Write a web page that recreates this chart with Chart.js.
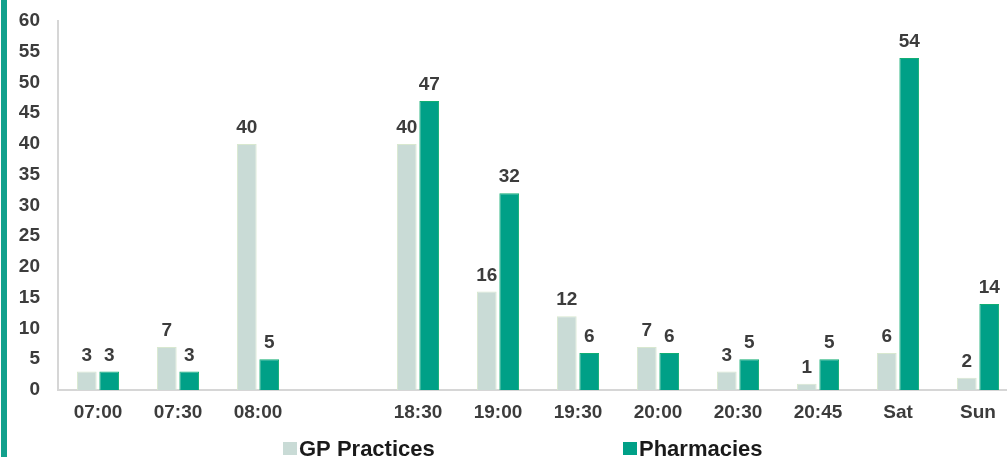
<!DOCTYPE html>
<html>
<head>
<meta charset="utf-8">
<script src="https://cdn.jsdelivr.net/npm/chart.js@4.4.1/dist/chart.umd.min.js"></script>
<style>
  html, body { margin: 0; padding: 0; background: #fff; overflow: hidden; }
  .wrap { position: relative; width: 1007px; height: 457px; overflow: hidden; }
  .stripe { position: absolute; left: 1px; top: 0; width: 6px; height: 457px; background: #12a08c; z-index: 2; }
  canvas { position: absolute; left: 0; top: 0; }
</style>
</head>
<body>
<div class="wrap">
  <div class="stripe"></div>
  <canvas id="accessChart" width="1022" height="457"></canvas>
</div>
<script>
const labels = ['07:00', '07:30', '08:00', '', '18:30', '19:00', '19:30', '20:00', '20:30', '20:45', 'Sat', 'Sun'];
const gpPractices = [3, 7, 40, null, 40, 16, 12, 7, 3, 1, 6, 2];
const pharmacies = [3, 3, 5, null, 47, 32, 6, 6, 5, 5, 54, 14];
const yTicks = [0, 5, 10, 15, 20, 25, 30, 35, 40, 45, 50, 55, 60];

const gpColor = '#c9dbd6';
const pharmColor = '#00a087';
const textColor = '#3c3c3c';
const font = 'Liberation Sans, Arial, sans-serif';

// numbers above each bar
const valueLabels = {
  id: 'valueLabels',
  afterDatasetsDraw(chart) {
    const ctx = chart.ctx;
    ctx.save();
    ctx.font = 'bold 19px ' + font;
    ctx.fillStyle = textColor;
    ctx.textAlign = 'center';
    ctx.textBaseline = 'alphabetic';
    chart.data.datasets.forEach((ds, i) => {
      chart.getDatasetMeta(i).data.forEach((bar, j) => {
        if (ds.data[j] == null) return;
        ctx.fillText(ds.data[j], bar.x, bar.y - 11);
      });
    });
    ctx.restore();
  }
};

// wide-spaced legend along the bottom
const bottomLegend = {
  id: 'bottomLegend',
  afterDraw(chart) {
    const ctx = chart.ctx;
    const items = [
      { text: 'GP Practices', color: gpColor, x: 283 },
      { text: 'Pharmacies', color: pharmColor, x: 623 }
    ];
    ctx.save();
    ctx.font = 'bold 22px ' + font;
    ctx.textBaseline = 'alphabetic';
    items.forEach(it => {
      ctx.fillStyle = it.color;
      ctx.fillRect(it.x, 442, 14, 13);
      ctx.fillStyle = '#1a1a1a';
      ctx.fillText(it.text, it.x + 16, 456);
    });
    ctx.restore();
  }
};

new Chart(document.getElementById('accessChart').getContext('2d'), {
  type: 'bar',
  data: {
    labels: labels,
    datasets: [
      {
        label: 'GP Practices',
        data: gpPractices,
        backgroundColor: gpColor,
        borderColor: '#d8e8cf',
        borderWidth: 1,
        categoryPercentage: 0.56,
        barPercentage: 0.88
      },
      {
        label: 'Pharmacies',
        data: pharmacies,
        backgroundColor: pharmColor,
        borderColor: '#12ae74',
        borderWidth: 1,
        categoryPercentage: 0.56,
        barPercentage: 0.88
      }
    ]
  },
  options: {
    responsive: false,
    animation: false,
    layout: { padding: { top: 21, right: 4, left: 0, bottom: 0 } },
    plugins: {
      legend: { display: false },
      tooltip: { enabled: false }
    },
    scales: {
      x: {
        grid: { display: false, drawTicks: false },
        border: { display: true, color: '#d6d6d6', width: 2 },
        ticks: {
          padding: 11,
          color: textColor,
          font: { family: font, size: 19, weight: 'bold' },
          maxRotation: 0,
          autoSkip: false
        },
        afterFit: s => { s.height = 67; }
      },
      y: {
        min: 0,
        max: 60,
        grid: { display: false, drawTicks: false },
        border: { display: true, color: '#d6d6d6', width: 2 },
        afterBuildTicks: s => { s.ticks = yTicks.map(v => ({ value: v })); },
        ticks: {
          padding: 18,
          color: textColor,
          font: { family: font, size: 19, weight: 'bold' }
        },
        afterFit: s => {
          s.width = 58;
          // tick padding would otherwise push the plot top down
          s.paddingTop = 0;
          s.paddingBottom = 0;
        }
      }
    }
  },
  plugins: [valueLabels, bottomLegend]
});
</script>
</body>
</html>
